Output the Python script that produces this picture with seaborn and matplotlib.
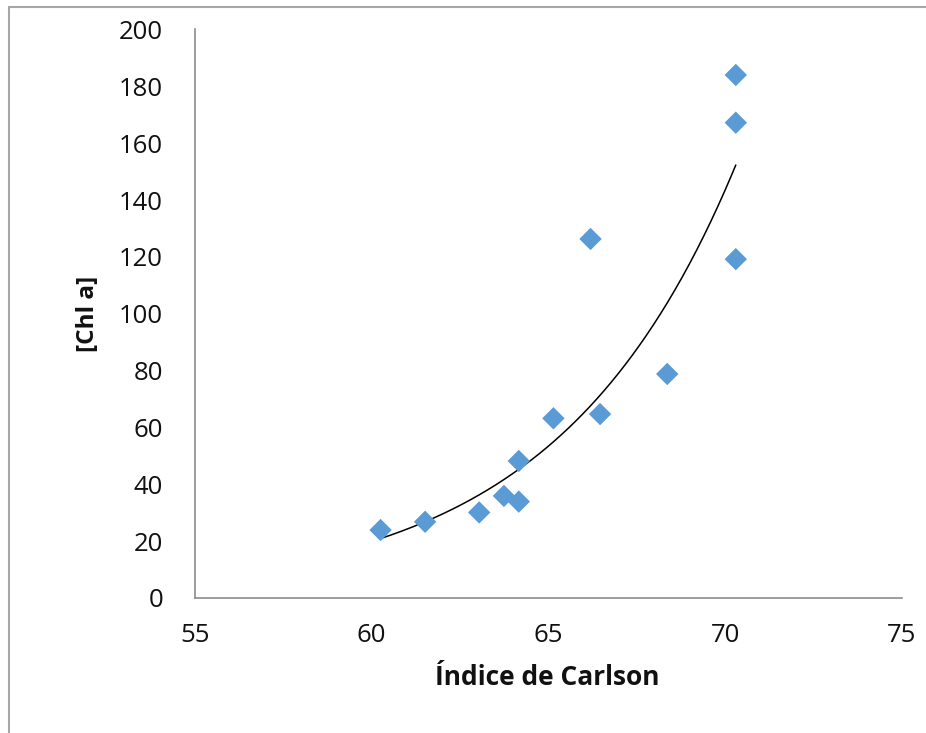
import numpy as np
import pandas as pd
import matplotlib
matplotlib.use("Agg")
import matplotlib.pyplot as plt
import seaborn as sns
from matplotlib.lines import Line2D

# --- data ---
carlson = [60.25, 61.51, 63.04, 63.74, 64.16, 64.16, 65.14, 66.19, 66.46, 68.36, 70.30, 70.30, 70.30]
chl_a = [23.9, 26.8, 30.1, 35.9, 33.9, 48.2, 63.2, 126.3, 64.7, 78.8, 184.0, 167.2, 119.2]
x_ticks = [55, 60, 65, 70, 75]
y_ticks = [0, 20, 40, 60, 80, 100, 120, 140, 160, 180, 200]

df = pd.DataFrame({"carlson": carlson, "chl": chl_a})

# exponential trendline (like Excel): fit ln(y) = ln(a) + b*x
b, ln_a = np.polyfit(df["carlson"], np.log(df["chl"]), 1)
xs = np.linspace(df["carlson"].min(), df["carlson"].max(), 200)
trend = pd.DataFrame({"x": xs, "y": np.exp(ln_a) * np.exp(b * xs)})

sns.set_style("white")
plt.rcParams["font.family"] = ["Open Sans", "DejaVu Sans"]

fig = plt.figure(figsize=(9.26, 7.33), dpi=100)
ax = fig.add_axes([0.2106, 0.1842, 0.7634, 0.7756])

sns.lineplot(data=trend, x="x", y="y", ax=ax, color="black", linewidth=1.1)
sns.scatterplot(data=df, x="carlson", y="chl", ax=ax, marker="D", s=130,
                color="#5B9BD5", edgecolor="none", zorder=3)

ax.set_xlim(55, 75)
ax.set_ylim(0, 200)
ax.set_xticks(x_ticks)
ax.set_yticks(y_ticks)

for side in ["top", "right"]:
    ax.spines[side].set_visible(False)
for side in ["left", "bottom"]:
    ax.spines[side].set_color("#8c8c8c")
    ax.spines[side].set_linewidth(1.2)

ax.tick_params(axis="y", direction="out", length=8, width=1.2, color="#8c8c8c",
               pad=15, labelsize=18.5, labelcolor="#111111")
ax.tick_params(axis="x", direction="out", length=7, width=1.2, color="#8c8c8c",
               pad=11, labelsize=18.5, labelcolor="#111111")

ax.set_xlabel("Índice de Carlson", fontsize=19, fontweight="bold", color="#111111")
ax.set_ylabel("[Chl a]", fontsize=17.5, fontweight="bold", color="#111111")
ax.xaxis.label.set_va("center")
ax.yaxis.label.set_va("center")
ax.xaxis.set_label_coords(0.498, -0.139)
ax.yaxis.set_label_coords(-0.151, 0.5)

# chart-area border (left and top edges visible)
fig.add_artist(Line2D([9 / 926, 9 / 926], [0, 1 - 7 / 733], transform=fig.transFigure,
                      color="#a6a6a6", linewidth=1.5))
fig.add_artist(Line2D([9 / 926, 1], [1 - 7 / 733, 1 - 7 / 733], transform=fig.transFigure,
                      color="#a6a6a6", linewidth=1.5))

fig.savefig("out.png", dpi=100)
